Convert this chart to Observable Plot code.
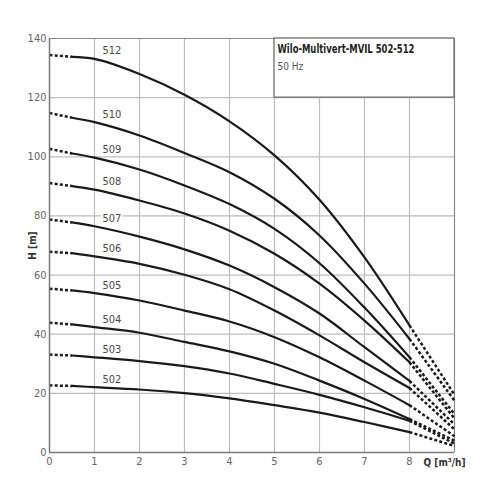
<!DOCTYPE html>
<html>
<head>
<meta charset="utf-8">
<script src="https://cdn.jsdelivr.net/npm/d3@7"></script>
<script src="https://cdn.jsdelivr.net/npm/@observablehq/plot@0.6"></script>
<style>
  html, body { margin: 0; padding: 0; background: #fff; }
  #chart { width: 500px; height: 500px; }
</style>
</head>
<body>
<div id="chart"></div>
<script>
// Flow rate Q [m³/h]
const flow = [0, 0.5, 1, 2, 3, 4, 5, 6, 7, 8, 9];
// Pump types
const pumps = ["512", "510", "509", "508", "507", "506", "505", "504", "503", "502"];
// Head H [m] per pump, at the flow values above
const h512 = [134.4, 133.8, 133.1, 128.0, 121.0, 112.0, 100.5, 85.5, 66.0, 43.0, 19.5];
const h510 = [114.8, 113.2, 111.7, 107.2, 101.3, 94.8, 85.8, 73.4, 57.1, 38.4, 17.5];
const h509 = [102.7, 101.1, 99.7, 95.7, 90.3, 84.0, 75.6, 64.0, 49.0, 32.2, 13.0];
const h508 = [91.1, 90.1, 88.9, 85.2, 80.8, 75.0, 67.2, 57.1, 44.6, 30.5, 11.5];
const h507 = [78.8, 77.8, 76.5, 73.0, 68.7, 63.2, 55.9, 47.0, 35.6, 24.2, 9.5];
const h506 = [67.9, 67.4, 66.3, 63.8, 60.1, 55.2, 48.0, 39.6, 30.5, 21.8, 7.8];
const h505 = [55.4, 54.8, 53.9, 51.4, 48.0, 44.3, 39.0, 32.2, 24.3, 16.0, 5.5];
const h504 = [43.9, 43.3, 42.4, 40.5, 37.4, 34.2, 30.0, 24.3, 18.1, 11.3, 4.0];
const h503 = [33.1, 32.8, 32.2, 30.9, 29.2, 26.7, 23.2, 19.5, 15.3, 10.7, 3.0];
const h502 = [22.7, 22.5, 22.1, 21.3, 20.1, 18.3, 16.0, 13.5, 10.3, 6.9, 2.2];
const heads = [h512, h510, h509, h508, h507, h506, h505, h504, h503, h502];
// Axis ticks
const xTicks = [0, 1, 2, 3, 4, 5, 6, 7, 8];
const yTicks = [0, 20, 40, 60, 80, 100, 120, 140];
const xGrid = [1, 2, 3, 4, 5, 6, 7, 8];
const yGrid = [20, 40, 60, 80, 100, 120];
const title = "Wilo-Multivert-MVIL 502-512";
const subtitle = "50 Hz";

// Build segments: dashed start (0–0.5), solid (0.5–8), dashed end (8–9)
const solid = [], dashed = [];
pumps.forEach((p, i) => {
  const h = heads[i];
  flow.forEach((q, j) => {
    if (j >= 1 && j <= 9) solid.push({pump: p, q, h: h[j]});
    if (j <= 1) dashed.push({pump: p, part: "a", q, h: h[j]});
    if (j >= 9) dashed.push({pump: p, part: "b", q, h: h[j]});
  });
});
const labels = pumps.map((p, i) => ({pump: p, q: flow[2], h: heads[i][2]}));

const font = "'Liberation Sans Narrow', 'DejaVu Sans Condensed', 'Roboto Condensed', sans-serif";

const chart = Plot.plot({
  width: 500,
  height: 500,
  marginLeft: 49,
  marginRight: 46,
  marginTop: 38,
  marginBottom: 48,
  style: {fontFamily: font, fontSize: "11px", color: "#555", background: "#fff"},
  x: {domain: [0, 9], ticks: xTicks},
  y: {domain: [0, 140], ticks: yTicks},
  marks: [
    Plot.ruleX(xGrid, {stroke: "#bdbdbd", strokeWidth: 1.2}),
    Plot.ruleY(yGrid, {stroke: "#bdbdbd", strokeWidth: 1.2}),
    Plot.ruleY([140], {stroke: "#8a8a8a", strokeWidth: 1.2}),
    Plot.ruleX([9], {stroke: "#8a8a8a", strokeWidth: 1.2}),
    Plot.rect([{x1: 5, x2: 9, y1: 120, y2: 140}], {x1: "x1", x2: "x2", y1: "y1", y2: "y2", fill: "white", stroke: "#6f6f6f", strokeWidth: 1.3}),
    Plot.line(dashed, {x: "q", y: "h", z: d => d.pump + d.part, stroke: "#1a1a1a", strokeWidth: 2.5, strokeDasharray: "3,2.2", strokeLinecap: "butt"}),
    Plot.line(solid, {x: "q", y: "h", z: "pump", stroke: "#1a1a1a", strokeWidth: 2.2, curve: "catmull-rom"}),
    Plot.text(labels, {x: "q", y: "h", text: "pump", dx: 8, dy: -8, textAnchor: "start", lineAnchor: "middle", fill: "#4a4a4a", stroke: "white", strokeWidth: 4, fontSize: 11}),
    Plot.ruleX([0], {stroke: "#7a7a7a", strokeWidth: 1.5}),
    Plot.ruleY([0], {stroke: "#7a7a7a", strokeWidth: 1.5}),
    Plot.axisX({ticks: xTicks, tickSize: 0, tickPadding: 5, label: null, fill: "#666"}),
    Plot.axisY({ticks: yTicks, tickSize: 0, tickPadding: 3, label: null, fill: "#666"}),
    Plot.text([title], {x: 5, y: 140, text: d => d, dx: 3, dy: 10, textAnchor: "start", lineAnchor: "middle", fontWeight: "bold", fontSize: 13, fill: "#1e1e1e", className: "ttl"}),
    Plot.text([subtitle], {x: 5, y: 140, text: d => d, dx: 3, dy: 28, textAnchor: "start", lineAnchor: "middle", fontSize: 10, fill: "#555"}),
    Plot.text(["H [m]"], {x: 0, y: 70, text: d => d, dx: -17, rotate: -90, fontWeight: "bold", fontSize: 10, fill: "#333"}),
    Plot.text(["Q [m³/h]"], {x: 8, y: 0, text: d => d, dx: 14, dy: 10, textAnchor: "start", lineAnchor: "middle", fontWeight: "bold", fontSize: 10, fill: "#333"})
  ]
});
document.getElementById("chart").appendChild(chart);
// compress the title to the condensed width of the original
d3.select(chart).selectAll("g.ttl text").attr("textLength", 137).attr("lengthAdjust", "spacingAndGlyphs");
</script>
</body>
</html>
